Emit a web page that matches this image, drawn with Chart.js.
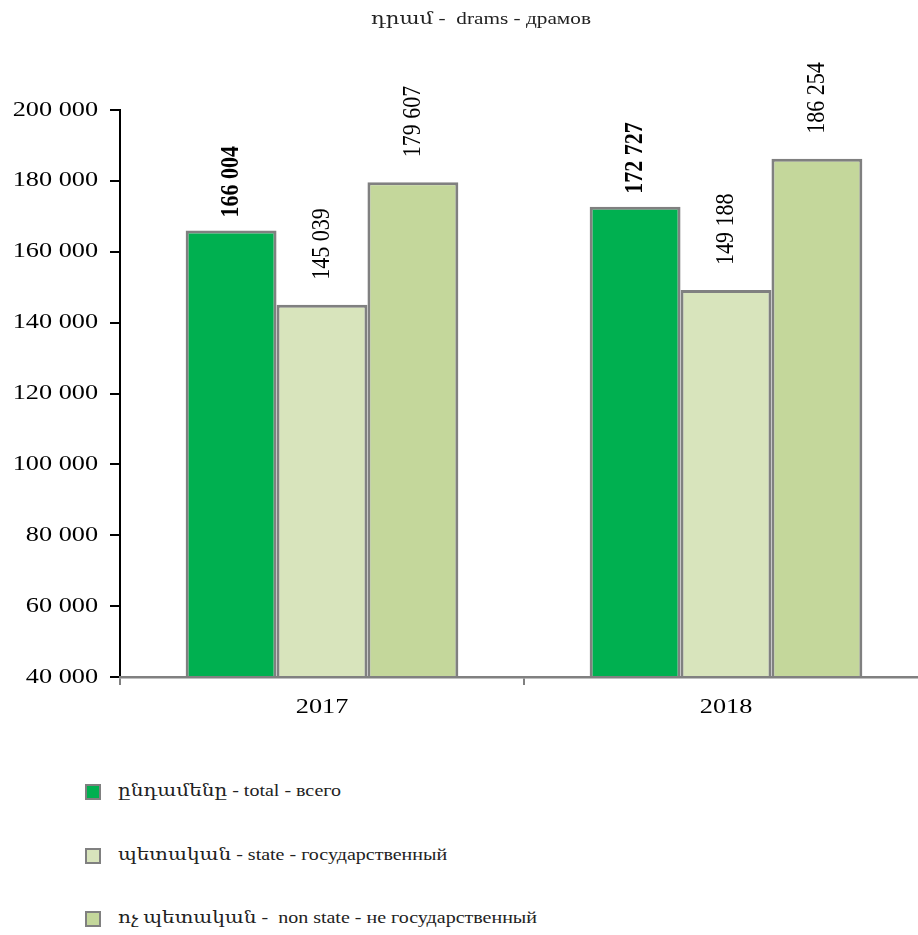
<!DOCTYPE html>
<html>
<head>
<meta charset="utf-8">
<script src="https://cdn.jsdelivr.net/npm/chart.js@4"></script>
<style>
  body { margin: 0; background: #fff; width: 918px; height: 935px; overflow: hidden; font-family: "Liberation Serif", "DejaVu Serif", serif; }
  #wrap { position: absolute; left: 0; top: 0; width: 928px; height: 740px; }
  .wide { display: inline-block; transform: scaleX(1.25); transform-origin: left center; white-space: pre; }
  #title { position: absolute; left: 371px; top: 8px; font-size: 17px; color: #222; }
  #legend { list-style: none; margin: 0; padding: 0; position: absolute; left: 85px; top: 781px; }
  #legend li { height: 63.5px; font-size: 16px; color: #222; display: flex; align-items: flex-start; }
  #legend span.box { display: inline-block; width: 12px; height: 12px; border: 2px solid #808080; margin: 3px 17px 0 0; flex: none; }
</style>
</head>
<body>
<div id="wrap"><canvas id="chart"></canvas></div>
<div id="title"><span class="wide">դրամ -  drams - драмов</span></div>
<ul id="legend"></ul>
<script>
/* DATA */
const years = ["2017", "2018"];
const totalVals = [166004, 172727];
const stateVals = [145039, 149188];
const nonStateVals = [179607, 186254];
const seriesNames = [
  "ընդամենը - total - всего",
  "պետական - state - государственный",
  "ոչ պետական -  non state - не государственный"
];
const yTicks = [40000, 60000, 80000, 100000, 120000, 140000, 160000, 180000, 200000];

const FONT = '"Liberation Serif", "DejaVu Serif", serif';
const fmt = v => String(v).replace(/\B(?=(\d{3})+(?!\d))/g, " ");

/* stretched text helper */
function wideText(ctx, text, x, y, align, font, stretch, rotate) {
  ctx.save();
  ctx.translate(x, y);
  ctx.scale(stretch, 1);
  if (rotate) ctx.rotate(-Math.PI / 2);
  ctx.font = font;
  ctx.fillStyle = "#000";
  ctx.textAlign = align;
  ctx.textBaseline = "middle";
  ctx.fillText(text, 0, 0);
  ctx.restore();
}

/* tick labels + bar values */
const labelGap = [13, 25, 25];

const labelsPlugin = {
  id: "labelsPlugin",
  afterDraw(chart) {
    const ctx = chart.ctx;
    const ys = chart.scales.y, xs = chart.scales.x;
    yTicks.forEach(v => {
      wideText(ctx, fmt(v), ys.right - 22, ys.getPixelForValue(v), "right", "21px " + FONT, 1.25);
    });
    years.forEach((yr, i) => {
      wideText(ctx, yr, xs.getPixelForValue(i), xs.top + 30, "center", "21px " + FONT, 1.25);
    });
    chart.data.datasets.forEach((ds, i) => {
      chart.getDatasetMeta(i).data.forEach((bar, j) => {
        wideText(ctx, fmt(ds.data[j]), bar.x, bar.y - labelGap[i], "left",
          (i === 0 ? "bold " : "") + "22px " + FONT, 1.15, true);
      });
    });
  }
};

const colors = ["#00B050", "#D8E4BC", "#C4D79B"];

const chart = new Chart(document.getElementById("chart"), {
  type: "bar",
  data: {
    labels: years,
    datasets: [totalVals, stateVals, nonStateVals].map((d, i) => ({
      label: seriesNames[i],
      data: d,
      backgroundColor: colors[i],
      borderColor: "#808080",
      borderWidth: 3,
      categoryPercentage: 0.675,
      barPercentage: 1
    }))
  },
  options: {
    responsive: true,
    maintainAspectRatio: false,
    animation: false,
    layout: { padding: { left: 0, right: 0, top: 110, bottom: 0 } },
    plugins: {
      legend: { display: false },
      tooltip: { enabled: false }
    },
    scales: {
      y: {
        min: 40000,
        max: 200000,
        afterBuildTicks: axis => { axis.ticks = yTicks.map(v => ({ value: v })); },
        afterFit: axis => { axis.width = 120; },
        border: { color: "#000", width: 2 },
        grid: { drawOnChartArea: false, tickLength: 10, color: "#000", lineWidth: 2 },
        ticks: { display: false }
      },
      x: {
        afterFit: axis => { axis.height = 63; },
        border: { color: "#808080", width: 2.5, z: 1 },
        grid: { offset: true, drawOnChartArea: false, tickLength: 8, color: "#808080", lineWidth: 2 },
        ticks: { display: false }
      }
    }
  },
  plugins: [labelsPlugin]
});

/* LEGEND */
document.getElementById("legend").innerHTML = chart.data.datasets.map(ds =>
  `<li><span class="box" style="background:${ds.backgroundColor}"></span><span class="wide">${ds.label}</span></li>`
).join("");
</script>
</body>
</html>
